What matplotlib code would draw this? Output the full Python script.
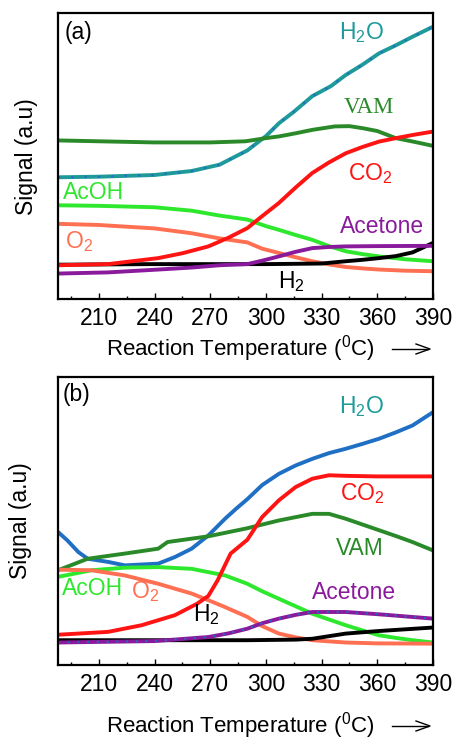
import numpy as np
import matplotlib.pyplot as plt
from matplotlib.ticker import MultipleLocator

plt.rcParams['font.family'] = ['Liberation Sans', 'DejaVu Sans']
plt.rcParams['mathtext.fontset'] = 'custom'
plt.rcParams['mathtext.rm'] = 'Liberation Sans'
plt.rcParams['mathtext.it'] = 'Liberation Sans'

# ---- panel (a) traces: temperature (C) vs signal (a.u., 0-100 scale) ----
a_h2o_T = [188, 210, 240, 260, 275, 290, 300, 307, 315, 325, 335, 343, 352, 361, 370, 379, 390]
a_h2o = [42.6, 42.8, 43.4, 44.8, 47.0, 52.0, 57.0, 61.5, 65.5, 71.0, 74.5, 78.4, 82.0, 86.0, 88.8, 91.8, 95.3]

a_vam_T = [188, 210, 240, 270, 289, 300, 307, 316, 325, 337, 345, 352, 360, 370, 380, 390]
a_vam = [55.5, 55.2, 54.8, 54.8, 55.2, 56.3, 56.9, 58.0, 59.2, 60.4, 60.5, 59.8, 58.8, 56.3, 55.0, 53.6]

a_co2_T = [188, 215, 242, 255, 269, 280, 290, 298, 307, 316, 325, 334, 343, 352, 361, 370, 379, 390]
a_co2 = [11.8, 12.2, 14.3, 16.0, 18.4, 21.5, 24.8, 29.0, 33.6, 39.0, 44.1, 47.8, 51.0, 53.2, 55.1, 56.3, 57.4, 58.6]

a_acoh_T = [188, 210, 240, 260, 275, 290, 300, 307, 316, 325, 334, 343, 352, 361, 375, 390]
a_acoh = [32.8, 32.6, 32.1, 30.9, 29.2, 27.8, 25.5, 24.2, 22.4, 20.7, 18.5, 16.7, 15.7, 14.9, 13.9, 13.2]

a_o2_T = [188, 210, 240, 260, 275, 290, 298, 307, 316, 325, 334, 343, 352, 361, 375, 390]
a_o2 = [26.3, 25.9, 24.7, 23.0, 21.2, 19.8, 17.6, 16.1, 14.6, 13.2, 12.1, 11.2, 10.7, 10.3, 9.9, 9.7]

a_h2_T = [188, 240, 300, 330, 343, 352, 361, 370, 379, 390]
a_h2 = [12.0, 12.2, 12.2, 12.4, 13.2, 13.7, 14.3, 15.0, 16.3, 19.6]

a_acet_T = [188, 215, 242, 260, 275, 290, 298, 307, 316, 325, 334, 343, 360, 390]
a_acet = [8.9, 9.3, 10.3, 11.0, 11.8, 12.2, 13.4, 14.9, 16.5, 17.8, 18.2, 18.4, 18.5, 18.6]

# ---- panel (b) traces ----
b_h2o_T = [188, 193, 199, 204, 215, 224, 242, 251, 260, 269, 278, 284, 290, 298, 307, 316, 325, 334, 343, 352, 361, 370, 379, 390]
b_h2o = [46.2, 43.3, 39.2, 36.9, 35.8, 34.6, 35.2, 37.5, 40.4, 45.0, 50.8, 54.3, 57.6, 62.5, 66.4, 69.3, 71.6, 73.6, 75.1, 76.8, 78.6, 80.8, 83.2, 87.8]

b_co2_T = [188, 215, 233, 251, 263, 269, 274, 281, 290, 298, 307, 316, 325, 334, 343, 360, 390]
b_co2 = [10.5, 11.5, 13.8, 17.3, 21.3, 24.0, 29.4, 38.7, 43.5, 51.4, 57.2, 61.8, 64.7, 65.9, 65.7, 65.5, 65.5]

b_vam_T = [188, 204, 224, 242, 247, 269, 290, 307, 325, 334, 343, 352, 361, 370, 379, 390]
b_vam = [32.9, 36.9, 38.7, 40.4, 42.7, 44.7, 47.5, 50.2, 52.5, 52.5, 50.8, 48.8, 46.8, 44.8, 42.7, 39.8]

b_acoh_T = [188, 206, 224, 242, 260, 278, 290, 298, 307, 316, 325, 334, 343, 352, 361, 370, 379, 390]
b_acoh = [30.6, 32.9, 33.8, 34.0, 33.4, 31.1, 28.2, 25.6, 23.0, 20.4, 17.8, 15.8, 13.8, 12.0, 10.3, 9.4, 8.6, 7.8]

b_o2_T = [188, 206, 224, 242, 260, 269, 278, 290, 298, 307, 316, 325, 343, 360, 390]
b_o2 = [33.1, 32.9, 31.1, 28.2, 24.8, 22.5, 20.1, 16.7, 13.5, 10.9, 9.6, 8.6, 7.8, 7.5, 7.4]

b_h2_T = [188, 240, 290, 316, 325, 343, 361, 390]
b_h2 = [8.6, 8.6, 8.6, 8.8, 9.1, 10.9, 11.8, 13.0]

b_acet_T = [188, 240, 269, 280, 290, 298, 307, 316, 325, 343, 361, 390]
b_acet = [7.8, 8.3, 9.7, 11.0, 12.6, 14.5, 16.1, 17.4, 18.4, 18.4, 17.6, 16.1]

TEAL = '#1f9a9a'
BLUE = '#1f6fc4'
DKGREEN = '#2a8a2a'
RED = '#ff1414'
LIME = '#2ee82e'
SALMON = '#ff6f52'
PURPLE = '#8a1a9c'
LW = 2.8

fig = plt.figure(figsize=(4.55, 7.4), dpi=100)
ax_a = fig.add_axes([0.1275, 0.596, 0.824, 0.386])
ax_b = fig.add_axes([0.1275, 0.1014, 0.824, 0.389])

# panel (a)
ax_a.plot(a_h2o_T, a_h2o, color=TEAL, lw=LW)
ax_a.plot(a_h2o_T, a_h2o, color=BLUE, lw=1.6, ls=(0, (1, 5)))
ax_a.plot(a_vam_T, a_vam, color=DKGREEN, lw=LW)
ax_a.plot(a_acoh_T, a_acoh, color=LIME, lw=LW)
ax_a.plot(a_o2_T, a_o2, color=SALMON, lw=LW)
ax_a.plot(a_h2_T, a_h2, color='black', lw=LW)
ax_a.plot(a_co2_T, a_co2, color=RED, lw=LW)
ax_a.plot(a_acet_T, a_acet, color=PURPLE, lw=LW)

fs = 16.5
ax_a.text(191.5, 93.4, '(a)', fontsize=fs, va='center', ha='left')
ax_a.text(351.7, 93.4, 'H$_2$O', color=TEAL, fontsize=fs, ha='center', va='center')
ax_a.text(355.5, 67.1, 'VAM', color=DKGREEN, fontsize=fs, ha='center', va='center',
          family='Liberation Serif')
ax_a.text(356.5, 44.0, 'CO$_2$', color=RED, fontsize=fs, ha='center', va='center')
ax_a.text(190.5, 37.4, 'AcOH', color=LIME, fontsize=fs, ha='left', va='center')
ax_a.text(191.5, 20.0, 'O$_2$', color=SALMON, fontsize=fs, ha='left', va='center')
ax_a.text(362.5, 25.2, 'Acetone', color=PURPLE, fontsize=fs, ha='center', va='center')
ax_a.text(314, 6.0, 'H$_2$', color='black', fontsize=fs, ha='center', va='center')

# panel (b)
ax_b.plot(b_h2o_T, b_h2o, color=BLUE, lw=LW)
ax_b.plot(b_vam_T, b_vam, color=DKGREEN, lw=LW)
ax_b.plot(b_acoh_T, b_acoh, color=LIME, lw=LW)
ax_b.plot(b_o2_T, b_o2, color=SALMON, lw=LW)
ax_b.plot(b_h2_T, b_h2, color='black', lw=LW)
ax_b.plot(b_acet_T, b_acet, color=PURPLE, lw=LW)
ax_b.plot(b_acet_T, b_acet, color=BLUE, lw=1.4, ls=(0, (1, 4)))
ax_b.plot(b_co2_T, b_co2, color=RED, lw=LW)

ax_b.text(190.5, 93.8, '(b)', fontsize=fs, va='center', ha='left')
ax_b.text(351.7, 89.8, 'H$_2$O', color=TEAL, fontsize=fs, ha='center', va='center')
ax_b.text(351.7, 59.6, 'CO$_2$', color=RED, fontsize=fs, ha='center', va='center')
ax_b.text(350.6, 40.6, 'VAM', color=DKGREEN, fontsize=fs, ha='center', va='center')
ax_b.text(190.0, 26.7, 'AcOH', color=LIME, fontsize=fs, ha='left', va='center')
ax_b.text(234.8, 25.5, 'O$_2$', color=SALMON, fontsize=fs, ha='center', va='center')
ax_b.text(347.4, 25.3, 'Acetone', color=PURPLE, fontsize=fs, ha='center', va='center')
ax_b.text(267.7, 17.5, 'H$_2$', color='black', fontsize=fs, ha='center', va='center')

for ax, lab_x in ((ax_a, -0.083), (ax_b, -0.099)):
    ax.set_xlim(188, 390)
    ax.set_ylim(0, 100)
    ax.xaxis.set_major_locator(MultipleLocator(30))
    ax.xaxis.set_minor_locator(MultipleLocator(15))
    ax.set_xticks(range(210, 391, 30))
    ax.tick_params(axis='x', which='both', direction='in', labelsize=fs, pad=6)
    ax.tick_params(axis='x', which='major', length=4, width=1)
    ax.tick_params(axis='x', which='minor', length=2.5, width=1)
    ax.set_yticks([])
    for sp in ax.spines.values():
        sp.set_linewidth(1.6)
    ax.set_ylabel('Signal (a.u)', fontsize=fs, va='center')
    ax.yaxis.set_label_coords(lab_x, 0.5)

# axis titles with a trailing arrow
for y_fig in (1 - 349 / 740, 1 - 726 / 740):
    fig.text(106 / 455, y_fig, 'Reaction Temperature ($^0$C)', fontsize=16,
             ha='left', va='center')
    fig.add_artist(plt.Line2D([392 / 455, 428 / 455], [y_fig, y_fig],
                              transform=fig.transFigure, color='black', lw=1))
    fig.add_artist(plt.Line2D([416 / 455, 430 / 455, 416 / 455],
                              [y_fig + 5 / 740, y_fig, y_fig - 5 / 740],
                              transform=fig.transFigure, color='black', lw=1))

fig.savefig('out.png', dpi=100)
